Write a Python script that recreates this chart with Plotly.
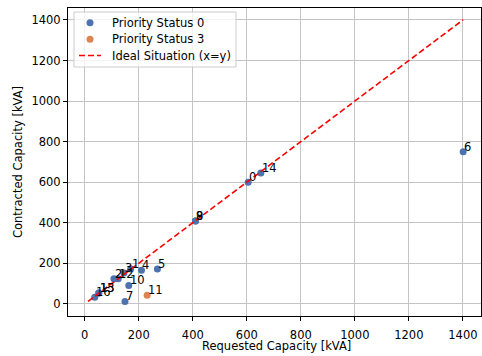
import plotly.graph_objects as go

# Requested vs contracted capacity per connection point, in kVA
point_ids = list(range(17))
requested = [605, 170, 108, 145, 210, 269, 1401, 149, 410, 410, 163, 231, 124, 52, 652, 52, 37]
contracted = [600, 172, 124, 152, 166, 172, 750, 12, 408, 408, 91, 42, 124, 53, 645, 53, 32]
priority = [0, 0, 0, 0, 0, 0, 0, 0, 0, 0, 0, 3, 0, 0, 0, 0, 0]

status_colors = {0: "#4c72b0", 3: "#dd8452"}
ideal_color = "red"
FONT = "DejaVu Sans"
FS = 11.5

# Plot-area geometry in pixels (used to place the hand-built legend)
W, H = 482, 356
ML, MR, MT, MB = 68, 1, 8, 40
PW, PH = W - ML - MR, H - MT - MB


def px(x):
    return (x - ML) / PW


def py(y):
    return (H - MB - y) / PH


fig = go.Figure()

for status in (0, 3):
    idx = [i for i, p in enumerate(priority) if p == status]
    fig.add_trace(go.Scatter(
        x=[requested[i] for i in idx],
        y=[contracted[i] for i in idx],
        mode="markers",
        marker=dict(color=status_colors[status], size=7, line=dict(width=0)),
        name=f"Priority Status {status}",
        showlegend=False,
    ))

# Ideal situation: contracted equals requested
lo = min(min(requested), min(contracted))
hi = max(max(requested), max(contracted))
fig.add_trace(go.Scatter(
    x=[lo, hi], y=[lo, hi], mode="lines",
    line=dict(color=ideal_color, width=1.6, dash="6px,3px"),
    name="Ideal Situation (x=y)",
    showlegend=False,
))

# Index label next to every point
for i, x, y in zip(point_ids, requested, contracted):
    fig.add_annotation(
        x=x, y=y, text=str(i), showarrow=False,
        xanchor="left", yanchor="bottom", xshift=-1, yshift=-4,
        font=dict(family=FONT, size=FS, color="black"),
    )

# Legend box
fig.add_shape(type="rect", xref="paper", yref="paper",
              x0=px(74), x1=px(236), y0=py(67), y1=py(12),
              line=dict(color="#cccccc", width=1),
              fillcolor="rgba(255,255,255,0.8)", layer="above")

legend_rows = [
    ("marker", status_colors[0], "Priority Status 0", 22.7),
    ("marker", status_colors[3], "Priority Status 3", 39.3),
    ("line", ideal_color, "Ideal Situation (x=y)", 55.5),
]
for kind, color, label, row_y in legend_rows:
    if kind == "marker":
        fig.add_shape(type="circle", xref="paper", yref="paper",
                      xsizemode="pixel", ysizemode="pixel",
                      xanchor=px(90), yanchor=py(row_y),
                      x0=-3.5, x1=3.5, y0=-3.5, y1=3.5,
                      fillcolor=color, line=dict(width=0), layer="above")
    else:
        fig.add_shape(type="line", xref="paper", yref="paper",
                      x0=px(79), x1=px(101), y0=py(row_y), y1=py(row_y),
                      line=dict(color=color, width=1.6, dash="6px,3px"),
                      layer="above")
    fig.add_annotation(xref="paper", yref="paper", x=px(110), y=py(row_y),
                       text=label, showarrow=False,
                       xanchor="left", yanchor="middle",
                       font=dict(family=FONT, size=FS, color="black"))

# X-axis title
fig.add_annotation(xref="paper", yref="paper", x=px(276), y=py(345.5),
                   text="Requested Capacity [kVA]", showarrow=False,
                   xanchor="center", yanchor="middle", borderpad=0,
                   font=dict(family=FONT, size=FS, color="black"))

tick_vals = [0, 200, 400, 600, 800, 1000, 1200, 1400]
axis_common = dict(
    tickvals=tick_vals,
    ticks="outside", ticklen=4, tickwidth=1, tickcolor="black",
    showline=True, linecolor="black", linewidth=1, mirror=True,
    showgrid=True, gridcolor="#c4c4c4", gridwidth=1,
    zeroline=False,
    tickfont=dict(family=FONT, size=FS, color="black"),
)

fig.update_layout(
    width=W, height=H,
    margin=dict(l=ML, r=MR, t=MT, b=MB),
    paper_bgcolor="white", plot_bgcolor="white",
    font=dict(family=FONT, size=FS, color="black"),
    xaxis=dict(range=[-62, 1467], ticklabelstandoff=4, **axis_common),
    yaxis=dict(range=[-60, 1459],
               title=dict(text="Contracted Capacity [kVA]", standoff=6,
                          font=dict(family=FONT, size=FS)),
               **axis_common),
    showlegend=False,
)

fig.write_html("out.html")
